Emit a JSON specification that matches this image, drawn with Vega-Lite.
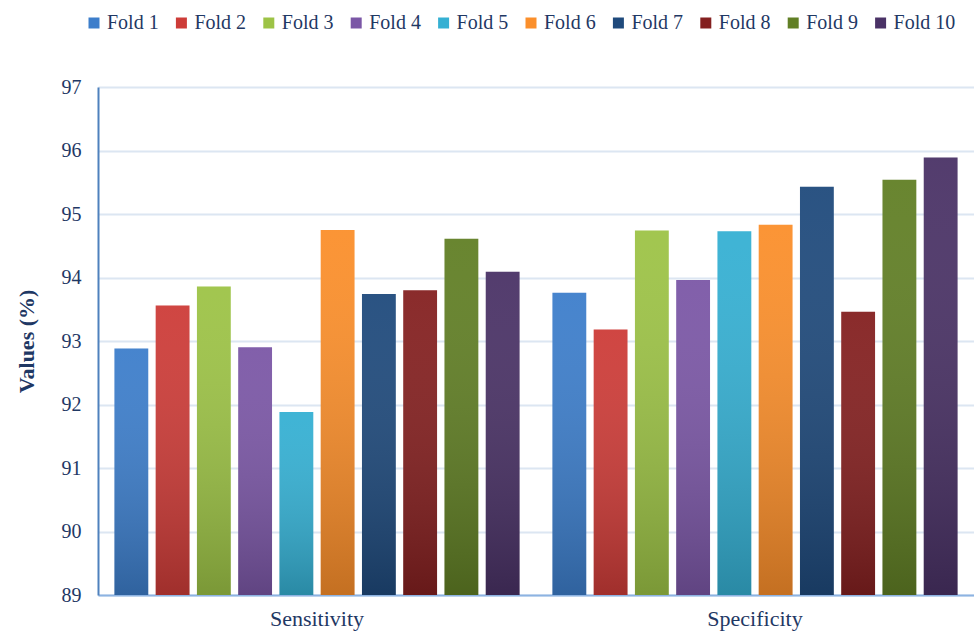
{
  "$schema": "https://vega.github.io/schema/vega-lite/v6.json",
  "width": 876,
  "height": 508,
  "autosize": {"type": "none"},
  "padding": {"left": 98, "top": 87, "right": 0, "bottom": 39},
  "background": "white",
  "config": {
    "view": {"stroke": null},
    "font": "'Liberation Serif', 'Times New Roman', serif",
    "axis": {"labelFont": "'Liberation Serif', 'Times New Roman', serif", "titleFont": "'Liberation Serif', 'Times New Roman', serif"},
    "legend": {"labelFont": "'Liberation Serif', 'Times New Roman', serif", "titleFont": "'Liberation Serif', 'Times New Roman', serif"}
  },
  "data": {
    "values": [
      {"metric": "Sensitivity", "fold": "Fold 1", "value": 92.88},
      {"metric": "Sensitivity", "fold": "Fold 2", "value": 93.56},
      {"metric": "Sensitivity", "fold": "Fold 3", "value": 93.86},
      {"metric": "Sensitivity", "fold": "Fold 4", "value": 92.90},
      {"metric": "Sensitivity", "fold": "Fold 5", "value": 91.88},
      {"metric": "Sensitivity", "fold": "Fold 6", "value": 94.75},
      {"metric": "Sensitivity", "fold": "Fold 7", "value": 93.74},
      {"metric": "Sensitivity", "fold": "Fold 8", "value": 93.80},
      {"metric": "Sensitivity", "fold": "Fold 9", "value": 94.61},
      {"metric": "Sensitivity", "fold": "Fold 10", "value": 94.09},
      {"metric": "Specificity", "fold": "Fold 1", "value": 93.76},
      {"metric": "Specificity", "fold": "Fold 2", "value": 93.18},
      {"metric": "Specificity", "fold": "Fold 3", "value": 94.74},
      {"metric": "Specificity", "fold": "Fold 4", "value": 93.96},
      {"metric": "Specificity", "fold": "Fold 5", "value": 94.73},
      {"metric": "Specificity", "fold": "Fold 6", "value": 94.83},
      {"metric": "Specificity", "fold": "Fold 7", "value": 95.43},
      {"metric": "Specificity", "fold": "Fold 8", "value": 93.46},
      {"metric": "Specificity", "fold": "Fold 9", "value": 95.54},
      {"metric": "Specificity", "fold": "Fold 10", "value": 95.89}
    ]
  },
  "encoding": {
    "x": {
      "field": "metric",
      "type": "nominal",
      "sort": ["Sensitivity", "Specificity"],
      "scale": {"paddingInner": 0.075, "paddingOuter": 0.0375},
      "axis": {
        "title": null,
        "labelAngle": 0,
        "labelFontSize": 22,
        "labelColor": "#1f3864",
        "labelPadding": 13,
        "ticks": false,
        "domainColor": "#8db3e2",
        "domainWidth": 2
      }
    },
    "xOffset": {
      "field": "fold",
      "type": "nominal",
      "sort": ["Fold 1", "Fold 2", "Fold 3", "Fold 4", "Fold 5", "Fold 6", "Fold 7", "Fold 8", "Fold 9", "Fold 10"],
      "scale": {"paddingInner": 0.18, "paddingOuter": 0}
    },
    "y": {
      "field": "value",
      "type": "quantitative",
      "scale": {"domain": [89, 97], "nice": false, "zero": false},
      "axis": {
        "title": "Values (%)",
        "titleFontSize": 22,
        "titleFontWeight": "bold",
        "titleColor": "#1f3864",
        "titlePadding": 23,
        "values": [89, 90, 91, 92, 93, 94, 95, 96, 97],
        "labelFontSize": 20,
        "labelColor": "#1f3864",
        "labelPadding": 17,
        "ticks": false,
        "domainColor": "#4f81bd",
        "domainWidth": 2,
        "gridColor": "#dce6f2",
        "gridWidth": 2
      }
    },
    "y2": {"datum": 89}
  },
  "layer": [
    {
      "mark": {"type": "bar", "clip": true},
      "encoding": {
        "color": {
          "field": "fold",
          "type": "nominal",
          "sort": ["Fold 1", "Fold 2", "Fold 3", "Fold 4", "Fold 5", "Fold 6", "Fold 7", "Fold 8", "Fold 9", "Fold 10"],
          "scale": {
            "range": ["#3d7ecb", "#cd3c38", "#9dc346", "#7b57a6", "#35b0d3", "#fb8f2b", "#1f4a7c", "#842020", "#617f25", "#4a3266"]
          },
          "legend": {
            "orient": "none",
            "legendX": -14,
            "legendY": -74,
            "direction": "horizontal",
            "columns": 10,
            "title": null,
            "symbolType": "square",
            "symbolSize": 121,
            "symbolStrokeWidth": 0,
            "labelFontSize": 20,
            "labelColor": "#1f3864",
            "labelOffset": 3,
            "columnPadding": 12.4
          }
        }
      }
    },
    {
      "mark": {
        "type": "bar",
        "clip": true,
        "fill": {
          "gradient": "linear",
          "x1": 0, "y1": 0, "x2": 0, "y2": 1,
          "stops": [
            {"offset": 0, "color": "rgba(255,255,255,0.05)"},
            {"offset": 1, "color": "rgba(0,0,0,0.22)"}
          ]
        }
      }
    }
  ]
}
